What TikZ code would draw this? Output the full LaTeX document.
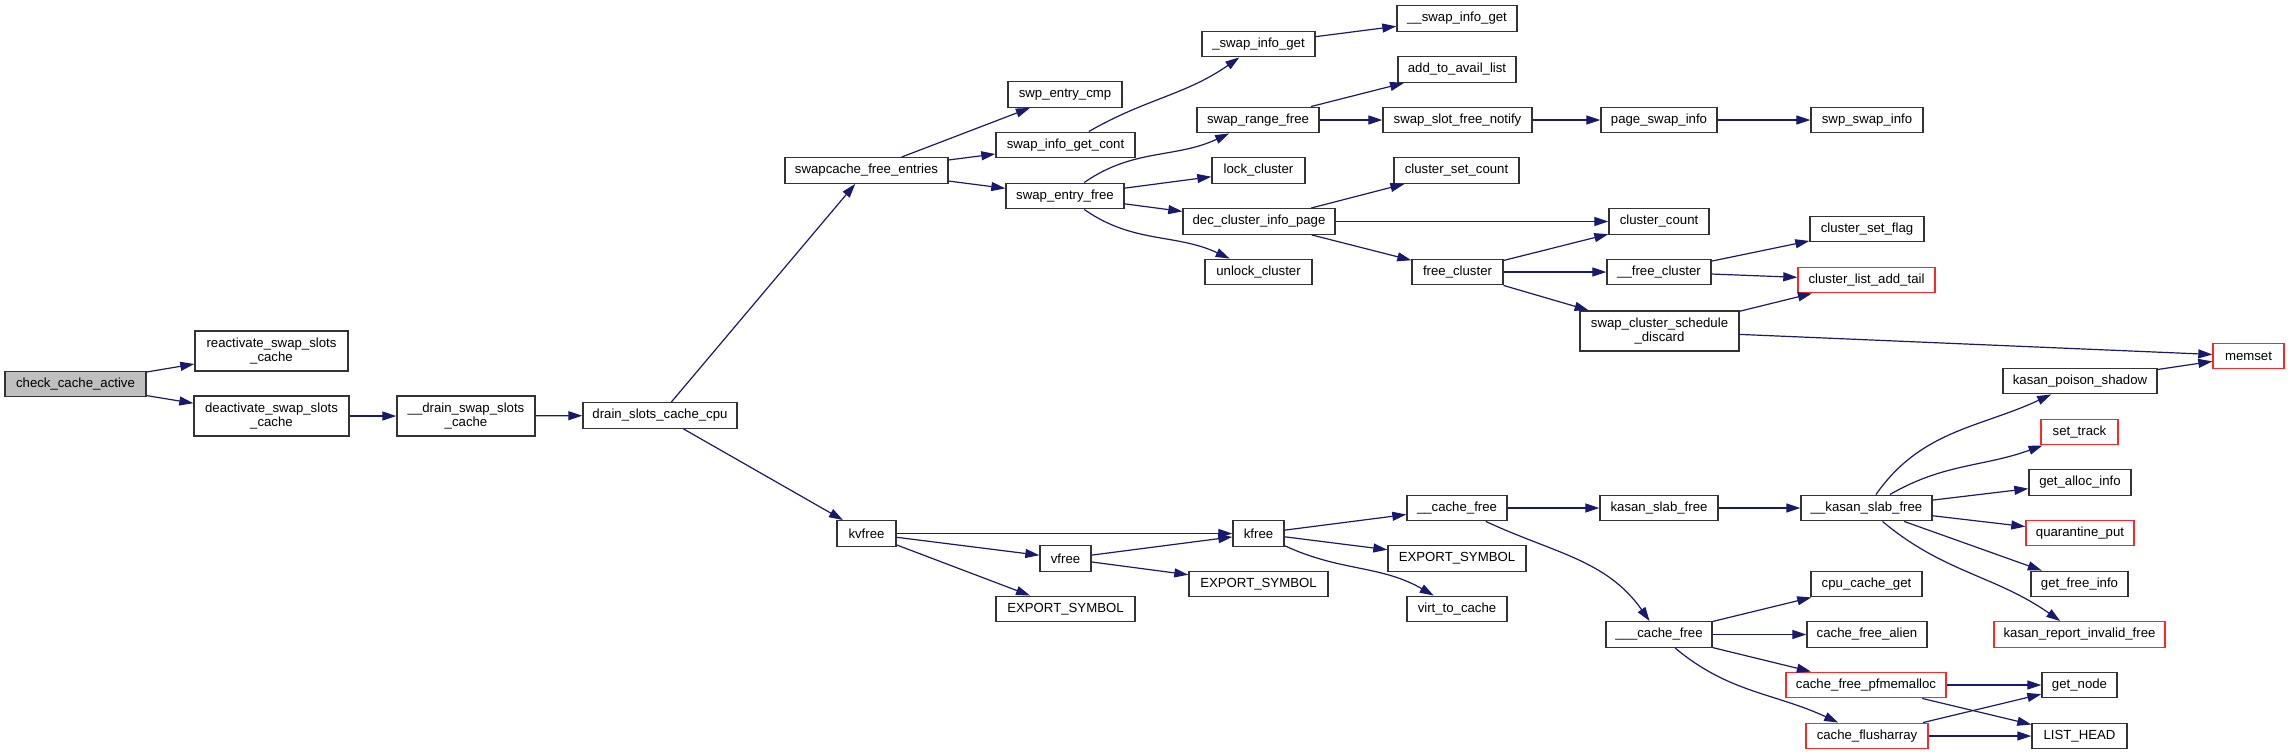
\documentclass[tikz,border=0pt]{standalone}
\usepackage{fontspec}
\setmainfont{Liberation Sans}
\usetikzlibrary{arrows.meta}
\definecolor{edgeblue}{HTML}{191970}

\begin{document}
\begin{tikzpicture}[x=0.5pt, y=-0.5pt,
  fn/.style={draw=black!80, line width=0.7pt, inner sep=0pt, minimum height=12.75pt,
    font=\fontsize{6.6}{7.2}\selectfont, align=center},
  fnred/.style={fn, draw=red!85!white},
  fntwo/.style={fn, minimum height=20pt},
  call/.style={draw=edgeblue, line width=0.6pt, -{Triangle[length=7pt,width=4.5pt]}}]
  \useasboundingbox (0,0) rectangle (2288,755);

  % column 1-4
  \node[fn, fill=black!25, minimum width=70.5pt] (check) at (75.5,384) {check\_cache\_active};
  \node[fntwo, minimum width=76.5pt] (react) at (271.5,351) {reactivate\_swap\_slots\\\_cache};
  \node[fntwo, minimum width=77.5pt] (deact) at (271.5,416) {deactivate\_swap\_slots\\\_cache};
  \node[fntwo, minimum width=69pt] (drainswap) at (466,416) {\_\_drain\_swap\_slots\\\_cache};
  \node[fn, minimum width=77pt] (drainslots) at (660,415.5) {drain\_slots\_cache\_cpu};

  % column 5-6
  \node[fn, minimum width=81.5pt] (swapcache) at (866.5,170.5) {swapcache\_free\_entries};
  \node[fn, minimum width=29.5pt] (kvfree) at (866.5,533.5) {kvfree};
  \node[fn, minimum width=57pt] (entrycmp) at (1065,94.5) {swp\_entry\_cmp};
  \node[fn, minimum width=69.5pt] (infocont) at (1065.5,145) {swap\_info\_get\_cont};
  \node[fn, minimum width=59pt] (entryfree) at (1065,196) {swap\_entry\_free};
  \node[fn, minimum width=25.5pt] (vfree) at (1065.5,558.5) {vfree};
  \node[fn, minimum width=69.5pt] (exportc) at (1065.5,609) {EXPORT\_SYMBOL};

  % column 7
  \node[fn, minimum width=56.5pt] (infoget) at (1258.5,44) {\_swap\_info\_get};
  \node[fn, minimum width=61pt] (rangefree) at (1258,120) {swap\_range\_free};
  \node[fn, minimum width=46.5pt] (lock) at (1258.5,170.5) {lock\_cluster};
  \node[fn, minimum width=76pt] (decinfo) at (1259,221.5) {dec\_cluster\_info\_page};
  \node[fn, minimum width=53.5pt] (unlock) at (1258.5,272) {unlock\_cluster};
  \node[fn, minimum width=25.5pt] (kfree) at (1258.5,533.5) {kfree};
  \node[fn, minimum width=69.5pt] (exportb) at (1258.5,584) {EXPORT\_SYMBOL};

  % column 8
  \node[fn, minimum width=60pt] (infogetb) at (1457,18.5) {\_\_swap\_info\_get};
  \node[fn, minimum width=59pt] (availlist) at (1457,69.5) {add\_to\_avail\_list};
  \node[fn, minimum width=74.5pt] (slotnotify) at (1457.5,120) {swap\_slot\_free\_notify};
  \node[fn, minimum width=62.5pt] (setcount) at (1456.5,170.5) {cluster\_set\_count};
  \node[fn, minimum width=45.5pt] (freecl) at (1457.5,272) {free\_cluster};
  \node[fn, minimum width=50pt] (cachefree) at (1457,508) {\_\_cache\_free};
  \node[fn, minimum width=69pt] (exporta) at (1457,558.5) {EXPORT\_SYMBOL};
  \node[fn, minimum width=50pt] (virtcache) at (1457,609) {virt\_to\_cache};

  % column 9
  \node[fn, minimum width=58pt] (pageinfo) at (1659,120) {page\_swap\_info};
  \node[fn, minimum width=50pt] (clcount) at (1659,221.5) {cluster\_count};
  \node[fn, minimum width=52pt] (freeclb) at (1659,272) {\_\_free\_cluster};
  \node[fntwo, minimum width=79.5pt] (discard) at (1659.5,331) {swap\_cluster\_schedule\\\_discard};
  \node[fn, minimum width=59pt] (kslab) at (1659,508) {kasan\_slab\_free};
  \node[fn, minimum width=53pt] (cachefreeb) at (1659,634.5) {\_\_\_cache\_free};

  % column 10
  \node[fn, minimum width=56pt] (swpinfo) at (1867,120) {swp\_swap\_info};
  \node[fn, minimum width=57pt] (setflag) at (1867,229) {cluster\_set\_flag};
  \node[fnred, minimum width=68.5pt] (addtail) at (1866.5,280) {cluster\_list\_add\_tail};
  \node[fn, minimum width=65.5pt] (kslabb) at (1866.5,508) {\_\_kasan\_slab\_free};
  \node[fn, minimum width=55.5pt] (cpuget) at (1866.5,584) {cpu\_cache\_get};
  \node[fn, minimum width=60pt] (alien) at (1867,634.5) {cache\_free\_alien};
  \node[fnred, minimum width=80pt] (pfmem) at (1866,685) {cache\_free\_pfmemalloc};
  \node[fnred, minimum width=61pt] (flush) at (1867,736) {cache\_flusharray};

  % column 11-12
  \node[fn, minimum width=77pt] (poison) at (2080,381) {kasan\_poison\_shadow};
  \node[fnred, minimum width=38.5pt] (track) at (2079.5,432) {set\_track};
  \node[fn, minimum width=51pt] (allocinfo) at (2080,482.5) {get\_alloc\_info};
  \node[fnred, minimum width=54pt] (quarantine) at (2080,533) {quarantine\_put};
  \node[fn, minimum width=48.5pt] (freeinfo) at (2079.5,584) {get\_free\_info};
  \node[fnred, minimum width=85.5pt] (report) at (2079.5,634.5) {kasan\_report\_invalid\_free};
  \node[fn, minimum width=37.5pt] (getnode) at (2079.5,685) {get\_node};
  \node[fn, minimum width=47.5pt] (listhead) at (2079.5,736) {LIST\_HEAD};
  \node[fnred, minimum width=35.5pt] (memset) at (2248.5,356) {memset};

  % calls
  \draw[call] (check) -- (react);
  \draw[call] (check) -- (deact);
  \draw[call] (deact) -- (drainswap);
  \draw[call] (drainswap) -- (drainslots);
  \draw[call] (drainslots) -- (swapcache);
  \draw[call] (drainslots) -- (kvfree);
  \draw[call] (swapcache) -- (entrycmp);
  \draw[call] (swapcache) -- (infocont);
  \draw[call] (swapcache) -- (entryfree);
  \draw[call] (infocont) to[out=30, in=215] (infoget);
  \draw[call] (infoget) -- (infogetb);
  \draw[call] (entryfree) to[out=35, in=205] (rangefree);
  \draw[call] (entryfree) -- (lock);
  \draw[call] (entryfree) -- (decinfo);
  \draw[call] (entryfree) to[out=-35, in=155] (unlock);
  \draw[call] (rangefree) -- (availlist);
  \draw[call] (rangefree) -- (slotnotify);
  \draw[call] (slotnotify) -- (pageinfo);
  \draw[call] (pageinfo) -- (swpinfo);
  \draw[call] (decinfo) -- (setcount);
  \draw[call] (decinfo) -- (clcount);
  \draw[call] (decinfo) -- (freecl);
  \draw[call] (freecl) -- (clcount);
  \draw[call] (freecl) -- (freeclb);
  \draw[call] (freecl) -- (discard);
  \draw[call] (freeclb) -- (setflag);
  \draw[call] (freeclb) -- (addtail);
  \draw[call] (discard) -- (addtail);
  \draw[call] (discard) -- (memset);
  \draw[call] (poison) -- (memset);
  \draw[call] (kvfree) -- (kfree);
  \draw[call] (kvfree) -- (vfree);
  \draw[call] (kvfree) -- (exportc);
  \draw[call] (vfree) -- (kfree);
  \draw[call] (vfree) -- (exportb);
  \draw[call] (kfree) -- (cachefree);
  \draw[call] (kfree) -- (exporta);
  \draw[call] (kfree) to[out=-25, in=150] (virtcache);
  \draw[call] (cachefree) -- (kslab);
  \draw[call] (cachefree) to[out=-25, in=125] (cachefreeb);
  \draw[call] (kslab) -- (kslabb);
  \draw[call] (kslabb) to[out=55, in=205] (poison);
  \draw[call] (kslabb) to[out=30, in=200] (track);
  \draw[call] (kslabb) -- (allocinfo);
  \draw[call] (kslabb) -- (quarantine);
  \draw[call] (kslabb) -- (freeinfo);
  \draw[call] (kslabb) to[out=-40, in=145] (report);
  \draw[call] (cachefreeb) -- (cpuget);
  \draw[call] (cachefreeb) -- (alien);
  \draw[call] (cachefreeb) -- (pfmem);
  \draw[call] (cachefreeb) to[out=-40, in=155] (flush);
  \draw[call] (pfmem) -- (getnode);
  \draw[call] (pfmem) -- (listhead);
  \draw[call] (flush) -- (getnode);
  \draw[call] (flush) -- (listhead);
\end{tikzpicture}
\end{document}
